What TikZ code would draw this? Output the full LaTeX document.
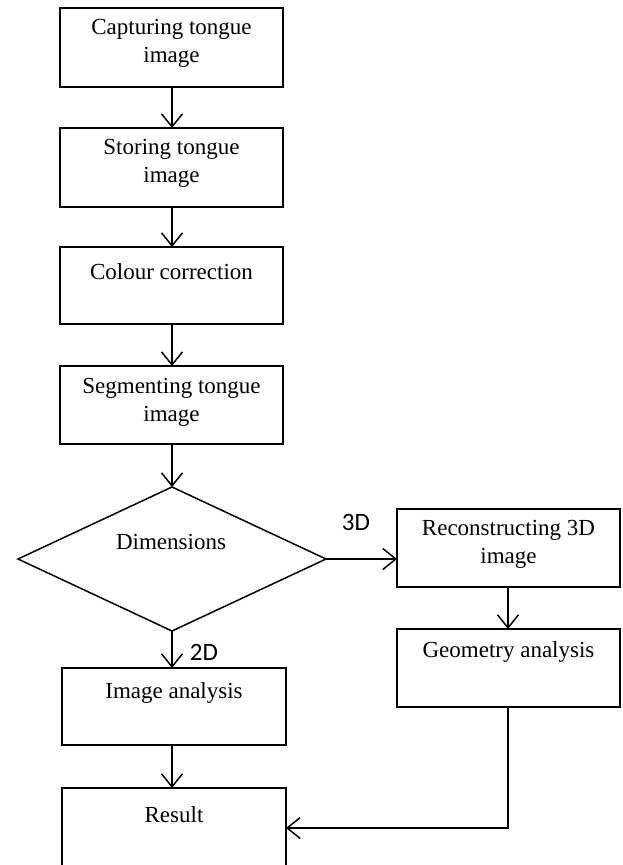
\documentclass[tikz,border=0pt]{standalone}
\usepackage{fontspec}
\setmainfont{Liberation Serif}
\newfontfamily\lblfont{Carlito}
\usetikzlibrary{shapes.geometric,arrows.meta}
\begin{document}
\begin{tikzpicture}[x=1pt,y=1pt,
  every node/.style={inner sep=0pt, outer sep=0pt},
  boxs/.style={draw, line width=1.5pt, rectangle, minimum width=223pt, minimum height=78pt},
  txt/.style={align=center, font=\fontsize{23}{28}\selectfont},
  lbl/.style={font=\lblfont\fontsize{25}{28}\selectfont},
  arr/.style={draw, line width=1.5pt, -{Straight Barb[length=13pt,width=21pt,line width=1.5pt]}}]
\useasboundingbox (0,0) rectangle (622,-865);
% boxes
\node[boxs, minimum height=79pt] (b1) at (171.5,-47.5) {};
\node[boxs, minimum height=79pt] (b2) at (171.5,-167.5) {};
\node[boxs, minimum height=77pt] (b3) at (171.5,-285.5) {};
\node[boxs] (b4) at (171.5,-405) {};
\node[draw, line width=1.5pt, diamond, minimum width=308pt, minimum height=144pt] (dia) at (172,-559) {};
\node[boxs, minimum width=224pt, minimum height=77pt] (ia) at (174,-706.5) {};
\node[boxs, minimum width=224pt, minimum height=80pt] (res) at (174,-828) {};
\node[boxs] (rec) at (508.5,-548) {};
\node[boxs] (geo) at (508.5,-668) {};
% texts
\node[txt] (t1) at (171.5,-43) {Capturing tongue\\image};
\node[txt] (t2) at (171.5,-163) {Storing tongue\\image};
\node[txt] (t3) at (171.5,-272) {Colour correction};
\node[txt] (t4) at (171.5,-402) {Segmenting tongue\\image};
\node[txt] (t5) at (171,-542) {Dimensions};
\node[txt] (t6) at (174,-693) {Image analysis};
\node[txt] (t7) at (174,-815) {Result};
\node[txt] (t8) at (508.5,-544) {Reconstructing 3D\\image};
\node[txt] (t9) at (508.5,-652) {Geometry analysis};
\node[lbl] (l3d) at (356,-522) {3D};
\node[lbl] (l2d) at (204,-652) {2D};
% connectors
\draw[arr] (b1.south -| 172,0) -- (b2.north -| 172,0);
\draw[arr] (b2.south -| 172,0) -- (b3.north -| 172,0);
\draw[arr] (b3.south -| 172,0) -- (b4.north -| 172,0);
\draw[arr] (b4.south -| 172,0) -- (dia.north);
\draw[arr] (dia.south) -- (dia.south |- ia.north);
\draw[arr] (ia.south -| 172,0) -- (res.north -| 172,0);
\draw[arr] (dia.east) -- (dia.east -| rec.west);
\draw[arr] (rec.south -| 508,0) -- (geo.north -| 508,0);
\draw[arr] (geo.south -| 508,0) |- (res.east);
\end{tikzpicture}
\end{document}
